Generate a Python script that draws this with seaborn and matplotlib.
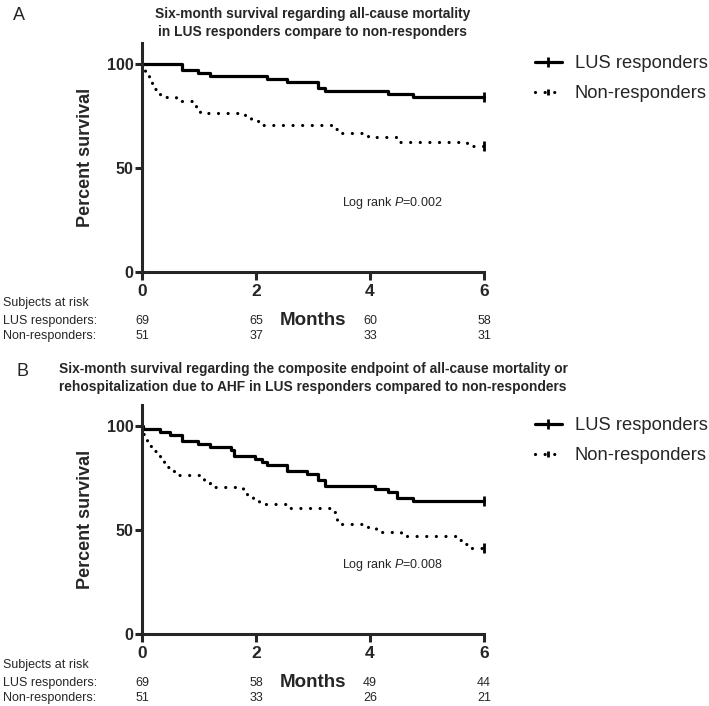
import numpy as np
import pandas as pd
import matplotlib
matplotlib.use("Agg")
import matplotlib.pyplot as plt
import matplotlib.transforms as mtransforms
from matplotlib.lines import Line2D
import seaborn as sns

groups = ["LUS responders", "Non-responders"]
month_ticks = [0, 2, 4, 6]

# panel A: all-cause mortality (step times in months, percent survival)
a_lus_t = [0, 0.70, 0.99, 1.19, 2.19, 2.54, 3.09, 3.21, 4.32, 4.76, 6.0]
a_lus_s = [100, 97.1, 95.7, 94.2, 92.8, 91.3, 88.4, 87.0, 85.5, 84.1, 84.1]
a_non_t = [0, 0.02, 0.05, 0.08, 0.12, 0.17, 0.22, 0.27, 0.32, 0.60, 0.90, 0.95,
           1.02, 1.80, 1.92, 2.05, 3.35, 3.42, 3.97, 4.47, 5.70, 6.0]
a_non_s = [100, 98.0, 96.1, 94.1, 92.2, 90.2, 88.2, 86.3, 84.3, 82.4, 80.4, 78.4,
           76.5, 74.5, 72.5, 70.6, 68.6, 66.7, 64.7, 62.7, 60.8, 60.8]
a_risk_lus = [69, 65, 60, 58]
a_risk_non = [51, 37, 33, 31]
a_title = "Six-month survival regarding all-cause mortality\nin LUS responders compare to non-responders"
a_p = "0.002"

# panel B: all-cause mortality or rehospitalization due to AHF
b_lus_t = [0, 0.01, 0.32, 0.49, 0.70, 0.99, 1.19, 1.57, 1.62, 1.98, 2.10, 2.19,
           2.54, 2.89, 3.09, 3.21, 4.09, 4.32, 4.47, 4.76, 6.0]
b_lus_s = [100, 98.6, 97.1, 95.7, 92.8, 91.3, 89.9, 88.4, 85.5, 84.1, 82.6, 81.2,
           78.3, 76.8, 73.9, 71.0, 69.6, 68.1, 65.2, 63.8, 63.8]
b_non_t = [0, 0.01, 0.05, 0.09, 0.13, 0.17, 0.25, 0.32, 0.38, 0.44, 0.52, 0.60,
           1.00, 1.08, 1.20, 1.78, 1.85, 1.95, 2.05, 2.55, 3.35, 3.38, 3.42, 3.50,
           3.97, 4.10, 4.55, 5.50, 5.60, 5.75, 6.0]
b_non_s = [100, 96.1, 94.1, 92.2, 90.2, 88.2, 86.3, 84.3, 82.4, 80.4, 78.4, 76.5,
           74.5, 72.5, 70.6, 68.6, 66.7, 64.7, 62.7, 60.8, 58.8, 56.9, 54.9, 52.9,
           51.0, 49.0, 47.1, 45.1, 43.1, 41.2, 41.2]
b_risk_lus = [69, 58, 49, 44]
b_risk_non = [51, 33, 26, 21]
b_title = ("Six-month survival regarding the composite endpoint of all-cause mortality or\n"
           "rehospitalization due to AHF in LUS responders compared to non-responders")
b_p = "0.008"

sns.set_style("ticks")
plt.rcParams["font.family"] = ["Liberation Sans", "DejaVu Sans"]
plt.rcParams["mathtext.fontset"] = "custom"
plt.rcParams["mathtext.it"] = "Liberation Sans:italic"
plt.rcParams["mathtext.rm"] = "Liberation Sans"

W, H = 709, 706
fig = plt.figure(figsize=(W / 100, H / 100), dpi=100)

dotted = (0, (0.01, 3.0))
lw = 2.3


def panel(ax, lus_t, lus_s, non_t, non_s, risk_lus, risk_non, title, p, top_px, bottom_px):
    df = pd.concat([
        pd.DataFrame({"Months": lus_t, "Percent survival": lus_s, "group": groups[0]}),
        pd.DataFrame({"Months": non_t, "Percent survival": non_s, "group": groups[1]}),
    ])
    for g, ls in zip(groups, ["-", dotted]):
        sub = df[df["group"] == g]
        sns.lineplot(data=sub, x="Months", y="Percent survival", estimator=None,
                     drawstyle="steps-post", color="black", lw=lw, linestyle=ls,
                     dash_capstyle="round", clip_on=False, ax=ax)
        last = sub.iloc[[-1]]
        sns.scatterplot(data=last, x="Months", y="Percent survival", marker="|",
                        s=45, linewidth=2, color="black", clip_on=False, ax=ax)
    ax.set_xlim(0, 6)
    ax.set_ylim(0, 110)
    ax.set_xticks(month_ticks)
    ax.set_yticks([0, 50, 100])
    sns.despine(ax=ax)
    for s in ["left", "bottom"]:
        ax.spines[s].set_linewidth(2.2)
    ax.tick_params(axis="x", width=2.2, length=6, pad=3, labelsize=12.5)
    ax.tick_params(axis="y", width=2.2, length=5, pad=1, labelsize=11.5)
    for lab in ax.get_xticklabels() + ax.get_yticklabels():
        lab.set_fontweight("bold")
    ax.set_ylabel("Percent survival", fontsize=13, fontweight="bold")
    ax.yaxis.set_label_coords(-0.14, 0.5)
    ax.set_xlabel("Months", fontsize=13.5, fontweight="bold")
    ax.xaxis.set_label_coords(0.5, -0.175)

    ax.text(4.39, 33, "Log rank $\\mathit{P}$=" + p, fontsize=9,
            ha="center", va="center")

    handles = [
        Line2D([0], [0], color="black", lw=lw, marker="|", markersize=7,
               markeredgewidth=2),
        Line2D([0], [0], color="black", lw=lw, linestyle=dotted,
               dash_capstyle="round", marker="|", markersize=5, markeredgewidth=2),
    ]
    ax.legend(handles, groups, loc="upper left", bbox_to_anchor=(1.149, 0.948),
              frameon=False, fontsize=13.2, handlelength=1.47, handletextpad=0.71,
              labelspacing=0.72, borderpad=0, borderaxespad=0)

    tr = mtransforms.blended_transform_factory(ax.transData, fig.transFigure)
    tr_t = mtransforms.blended_transform_factory(ax.transAxes, fig.transFigure)
    ax.text(0.5, 1 - (top_px + 10) / H, title, transform=tr_t, ha="center",
            va="center", fontsize=9.9, fontweight="bold", linespacing=1.45)
    fig.text(3 / W, 1 - (bottom_px + 31) / H, "Subjects at risk", fontsize=9,
             ha="left", va="center")
    for label, counts, y in [(groups[0] + ":", risk_lus, bottom_px + 49),
                             (groups[1] + ":", risk_non, bottom_px + 64)]:
        fig.text(3 / W, 1 - y / H, label, fontsize=9, ha="left", va="center")
        for m, n in zip(month_ticks, counts):
            ax.text(m, 1 - y / H, str(n), transform=tr, fontsize=9,
                    ha="center", va="center")


ax_a = fig.add_axes([142 / W, 1 - 272 / H, 342 / W, 228.8 / H])
ax_b = fig.add_axes([142 / W, 1 - 634 / H, 342 / W, 228.8 / H])
panel(ax_a, a_lus_t, a_lus_s, a_non_t, a_non_s, a_risk_lus, a_risk_non,
      a_title, a_p, 13, 272)
panel(ax_b, b_lus_t, b_lus_s, b_non_t, b_non_s, b_risk_lus, b_risk_non,
      b_title, b_p, 368, 634)
fig.text(19 / W, 1 - 15 / H, "A", fontsize=13, ha="center", va="center")
fig.text(22 / W, 1 - 372 / H, "B", fontsize=13, ha="center", va="center")

fig.savefig("out.png", dpi=100)
